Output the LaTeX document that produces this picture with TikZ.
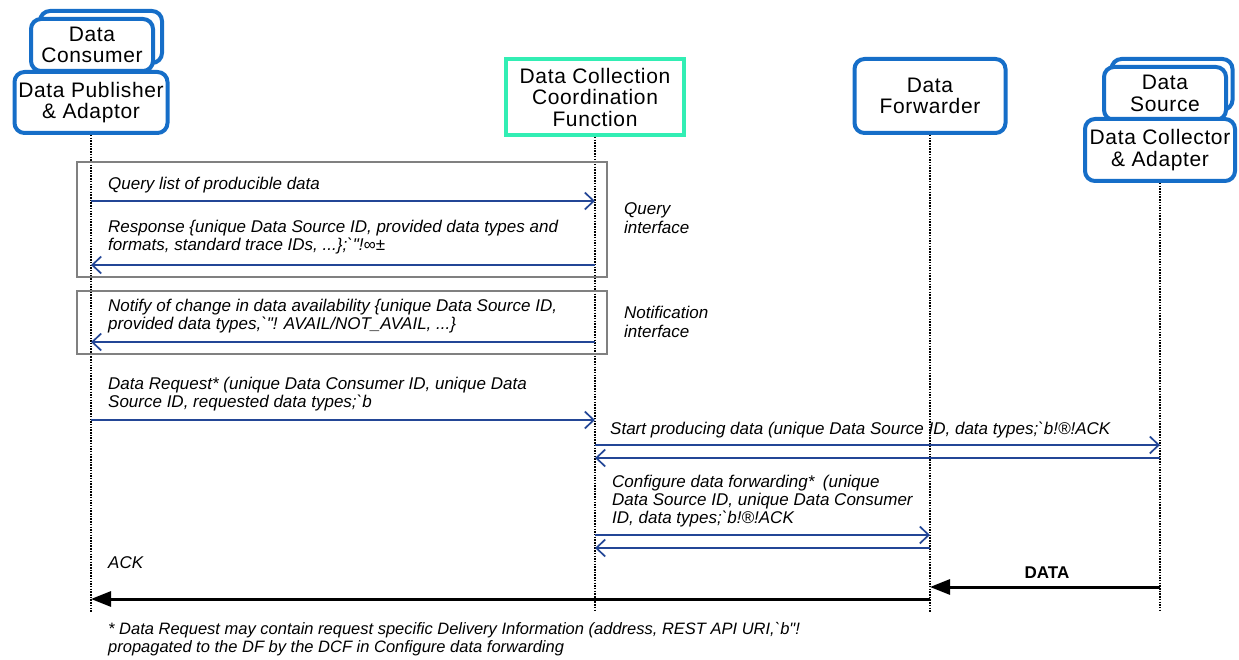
\documentclass[tikz,border=0pt]{standalone}
\usepackage{fontspec}
\setmainfont{Liberation Sans}[Ligatures=TeXOff]
\newfontfamily\titlefont{Liberation Sans}[Ligatures=TeXOff, LetterSpace=3]
\usetikzlibrary{arrows.meta}
\definecolor{boxblue}{RGB}{22,110,200}
\definecolor{msgblue}{RGB}{35,70,150}
\definecolor{dccfgreen}{RGB}{50,238,180}
\definecolor{framegray}{RGB}{128,128,128}
\begin{document}
\begin{tikzpicture}[x=1pt,y=-1pt,
  actor/.style={draw=boxblue, line width=4pt, rounded corners=10pt, fill=white,
    align=center, font=\titlefont\fontsize{21}{21.5}\selectfont, inner sep=0pt},
  lifeline/.style={draw=black, line width=1.6pt, dash pattern=on 1.5pt off 1.2pt},
  frame/.style={draw=framegray, line width=2pt, inner sep=0pt},
  msg/.style={draw=msgblue, line width=1.7pt, -{Straight Barb[length=9pt,width=17pt,line width=1.7pt]}},
  bigarrow/.style={draw=black, line width=3pt, -{Triangle[length=20pt,width=15pt]}},
  msgtxt/.style={font=\fontsize{17}{18}\selectfont\itshape, align=left, anchor=west, inner sep=0pt},
  notetxt/.style={font=\fontsize{17}{19}\selectfont\itshape, align=left, anchor=west, inner sep=0pt},
  foottxt/.style={font=\fontsize{16.5}{18}\selectfont\itshape, align=left, anchor=west, inner sep=0pt}
]
\useasboundingbox (0,0) rectangle (1239,660);

% actor boxes
\node[actor, minimum width=122pt, minimum height=52pt] (consback) at (101,37) {};
\node[actor, minimum width=122pt, minimum height=52pt] (cons) at (92,45) {Data\\Consumer};
\node[actor, minimum width=153pt, minimum height=61pt] (pub) at (91,102.5) {Data Publisher\\\& Adaptor};
\node[actor, draw=dccfgreen, rounded corners=0pt, minimum width=178pt, minimum height=76pt] (dccf) at (595,97) {Data Collection\\Coordination\\Function};
\node[actor, minimum width=151pt, minimum height=74pt] (df) at (930,96) {Data\\Forwarder};
\node[actor, minimum width=121pt, minimum height=51pt] (dsback) at (1172,84.5) {};
\node[actor, minimum width=122pt, minimum height=53pt] (ds) at (1165,93.5) {Data\\Source};
\node[actor, minimum width=150pt, minimum height=62pt] (coll) at (1160,150) {Data Collector\\\& Adapter};

% lifeline ends
\coordinate (pubEnd) at (91,612);
\coordinate (dccfEnd) at (595,612);
\coordinate (dfEnd) at (930,612);
\coordinate (collEnd) at (1160,612);
\draw[lifeline] (pub.south) -- (pubEnd);
\draw[lifeline] (dccf.south) -- (dccfEnd);
\draw[lifeline] (df.south) -- (dfEnd);
\draw[lifeline] (coll.south) -- (collEnd);

% interface frames
\node[frame, minimum width=530pt, minimum height=115pt] (qframe) at (342,219.5) {};
\node[frame, minimum width=530pt, minimum height=63pt] (nframe) at (342,322.5) {};

% messages
\draw[msg] (pub.south |- 0,201) -- (dccf.south |- 0,201);
\draw[msg] (dccf.south |- 0,265) -- (pub.south |- 0,265);
\draw[msg] (dccf.south |- 0,342) -- (pub.south |- 0,342);
\draw[msg] (pub.south |- 0,420) -- (dccf.south |- 0,420);
\draw[msg] (dccf.south |- 0,445) -- (coll.south |- 0,445);
\draw[msg] (coll.south |- 0,458) -- (dccf.south |- 0,458);
\draw[msg] (dccf.south |- 0,535) -- (df.south |- 0,535);
\draw[msg] (df.south |- 0,548) -- (dccf.south |- 0,548);
\draw[bigarrow] (coll.south |- 0,587) -- (df.south |- 0,587);
\draw[bigarrow] (df.south |- 0,599) -- (pub.south |- 0,599);

% labels
\node[msgtxt] (t1) at (108,185) {Query list of producible data};
\node[msgtxt] (t2) at (108,237) {Response \{unique Data Source ID, provided data types and\\formats, standard trace IDs, ...\};`"!∞±};
\node[msgtxt] (t3) at (108,316) {Notify of change in data availability \{unique Data Source ID,\\provided data types,`"! AVAIL/NOT\_AVAIL, ...\}};
\node[msgtxt] (t4) at (108,394) {Data Request* (unique Data Consumer ID, unique Data\\Source ID, requested data types;`b};
\node[msgtxt] (t5) at (610,430) {Start producing data (unique Data Source ID, data types;`b!®!ACK};
\node[msgtxt] (t6) at (612,501) {Configure data forwarding*\enspace(unique\\Data Source ID, unique Data Consumer\\ID, data types;`b!®!ACK};
\node[msgtxt] (t7) at (108,563) {ACK};
\node[font=\fontsize{17}{18}\selectfont\bfseries, inner sep=0pt] (t8) at (1047,573) {DATA};
\node[notetxt] (n1) at (624,218) {Query\\interface};
\node[notetxt] (n2) at (624,322) {Notification\\interface};
\node[foottxt] (fn) at (108,639) {* Data Request may contain request specific Delivery Information (address, REST API URI,`b"!\\propagated to the DF by the DCF in Configure data forwarding};
\end{tikzpicture}
\end{document}
